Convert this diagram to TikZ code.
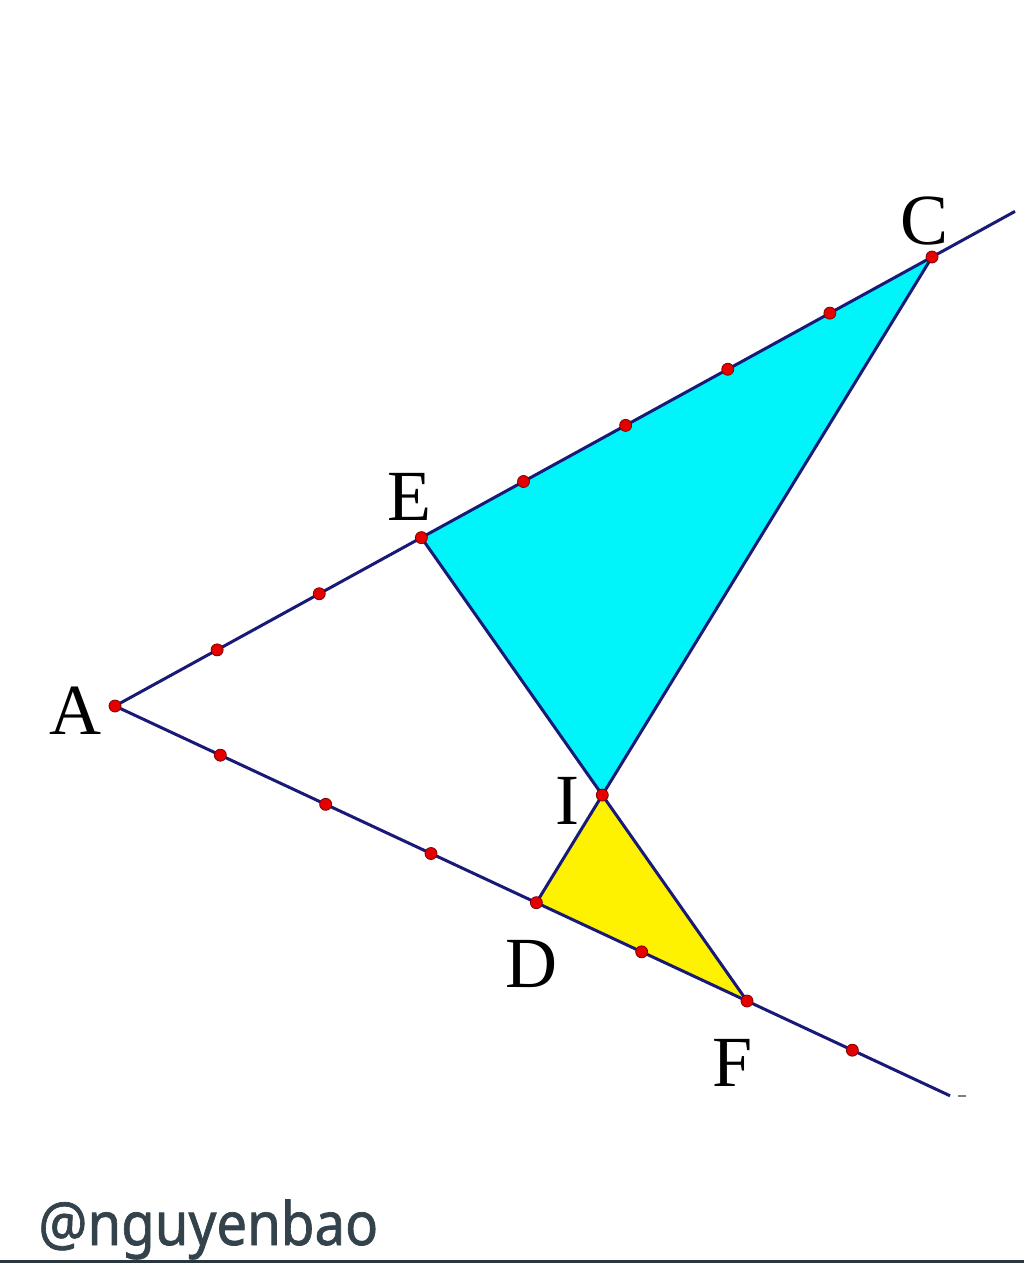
\documentclass[tikz,border=0pt]{standalone}
\usepackage{fontspec}
\usetikzlibrary{calc}
\setmainfont{Liberation Serif}
\newfontfamily\tagfont[FakeBold=1.2]{Noto Sans}
\begin{document}
\begin{tikzpicture}[x=0.5pt,y=-0.5pt,
  seg/.style={draw=navyline,line width=1.5pt},
  ptdot/.style={circle,fill=red!90!black,draw=red!50!black,line width=0.4pt,inner sep=0pt,minimum size=6pt},
  lbl/.style={font=\fontsize{36}{40}\selectfont,inner sep=0pt}]
\definecolor{navyline}{RGB}{25,25,120}
\definecolor{cyanfill}{RGB}{0,245,250}
\definecolor{tagcol}{RGB}{52,66,76}
\useasboundingbox[fill=white] (0,0) rectangle (1024,1263);
% main points
\coordinate (A) at (115,706);
\coordinate (C) at (932,257);
\coordinate (F) at (747,1001);
\coordinate (E) at ($(A)!0.375!(C)$);
\coordinate (D) at ($(A)!0.6667!(F)$);
\coordinate (I) at (intersection of E--F and C--D);
\coordinate (Cext) at ($(A)!1.1016!(C)$);
\coordinate (Fext) at ($(A)!1.3212!(F)$);
% fills
\fill[cyanfill] (E) -- (C) -- (I) -- cycle;
\fill[yellow] (D) -- (I) -- (F) -- cycle;
% lines
\draw[seg] (A) -- (Cext);
\draw[seg] (A) -- (Fext);
\draw[seg] (E) -- (I) -- (F);
\draw[seg] (C) -- (I) -- (D);
\draw[gray,line width=1pt] ($(Fext)+(8,0)$) -- ($(Fext)+(16,0)$);
% tick dots
\foreach \t [count=\k] in {0.125,0.25,0.5,0.625,0.75,0.875}
  \node[ptdot] (ac\k) at ($(A)!\t!(C)$) {};
\foreach \t [count=\k] in {0.16667,0.33333,0.5,0.83333,1.16667}
  \node[ptdot] (af\k) at ($(A)!\t!(F)$) {};
\foreach \p in {A,C,E,D,F,I}
  \node[ptdot] (dot\p) at (\p) {};
% labels
\node[lbl] (lA) at (75,711) {A};
\node[lbl] (lE) at (409,497) {E};
\node[lbl] (lC) at (924,221) {C};
\node[lbl] (lI) at (567,801) {I};
\node[lbl] (lD) at (531,964) {D};
\node[lbl] (lF) at (733,1063) {F};
% watermark
\node[anchor=base west,inner sep=0pt,text=tagcol,font=\tagfont\fontsize{30}{33}\selectfont] (tag) at (38,1245) {\scalebox{0.91}[1]{@nguyenbao}};
\draw[draw=tagcol!80!black,line width=1.5pt] (0,1261) -- (1024,1261);
\end{tikzpicture}
\end{document}
